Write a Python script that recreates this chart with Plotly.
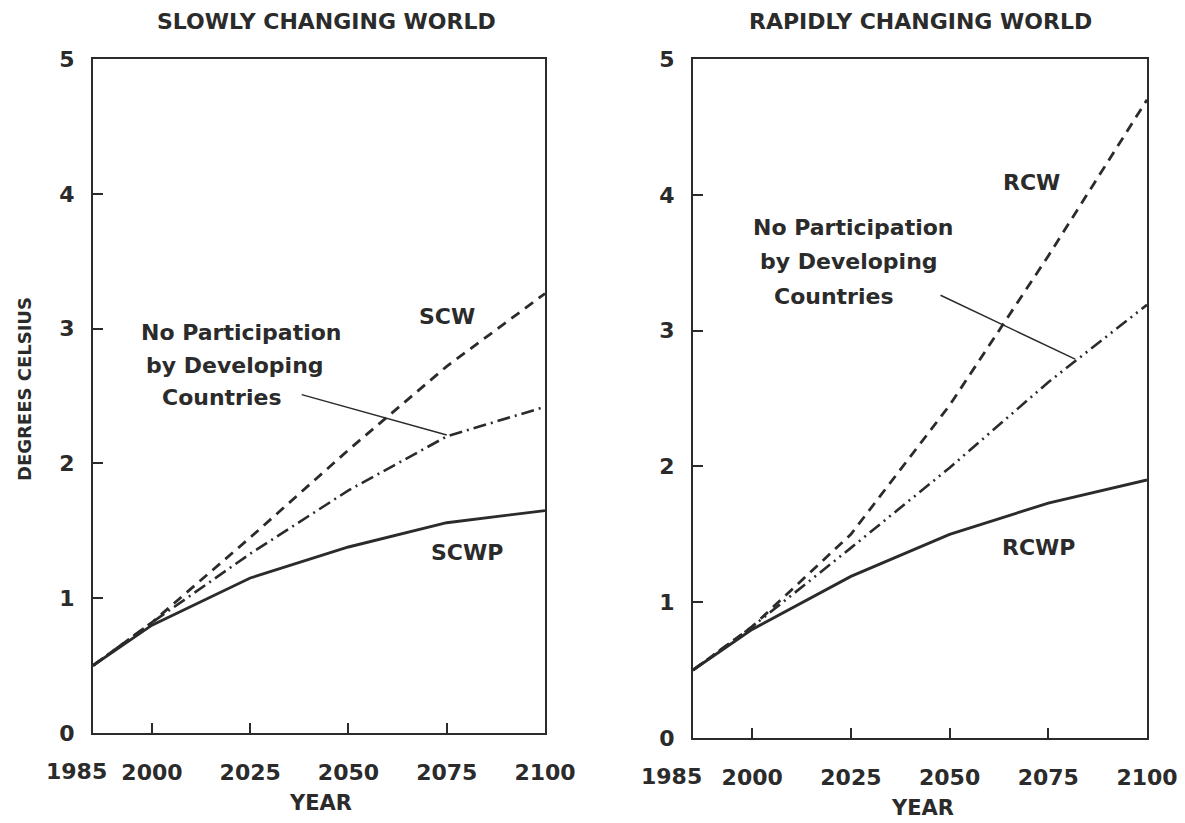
import plotly.graph_objects as go
from plotly.subplots import make_subplots

# years on x axis
years = [1985, 2000, 2025, 2050, 2075, 2100]

# slowly changing world (degrees C)
scw = [0.50, 0.82, 1.45, 2.10, 2.72, 3.26]
scw_nodev = [0.50, 0.82, 1.33, 1.80, 2.20, 2.42]
scwp = [0.50, 0.80, 1.15, 1.38, 1.56, 1.65]

# rapidly changing world
rcw = [0.50, 0.82, 1.50, 2.45, 3.55, 4.70]
rcw_nodev = [0.50, 0.82, 1.40, 1.99, 2.62, 3.19]
rcwp = [0.50, 0.80, 1.19, 1.50, 1.73, 1.90]

xticks = [1985, 2000, 2025, 2050, 2075, 2100]
xticktext = ["", "2000", "2025", "2050", "2075", "2100"]
yticks = [0, 1, 2, 3, 4, 5]

titles = ["SLOWLY CHANGING WORLD", "RAPIDLY CHANGING WORLD"]
note_lines = ["No Participation", "by Developing", "Countries"]

# label positions (data coords) per panel
left_labels = {"SCW": (2075.1, 3.09), "SCWP": (2080.1, 1.34)}
right_labels = {"RCW": (2070.8, 4.09), "RCWP": (2072.5, 1.40)}
left_note = [(2022.7, 2.97), (2021.1, 2.73), (2017.8, 2.49)]
right_note = [(2025.6, 3.76), (2024.4, 3.51), (2020.7, 3.25)]
left_leader = [(2038.1, 2.51), (2075.0, 2.21)]
right_leader = [(2047.7, 3.26), (2081.8, 2.79)]

ink = "#2b2b2b"
fam = "DejaVu Sans"
W, H = 1185, 823
off = 8  # page body margin


def px(x):
    return (x - off) / W


def py(y):
    return 1 - (y - off) / H


fig = make_subplots(rows=1, cols=2)

fig.add_trace(go.Scatter(x=years, y=scw, mode="lines",
                         line=dict(color=ink, width=2.8, dash="10px,7px")), 1, 1)
fig.add_trace(go.Scatter(x=years, y=scw_nodev, mode="lines",
                         line=dict(color=ink, width=2.6, dash="13px,5px,2px,5px")), 1, 1)
fig.add_trace(go.Scatter(x=years, y=scwp, mode="lines",
                         line=dict(color=ink, width=2.9)), 1, 1)

fig.add_trace(go.Scatter(x=years, y=rcw, mode="lines",
                         line=dict(color=ink, width=2.8, dash="10px,7px")), 1, 2)
fig.add_trace(go.Scatter(x=years, y=rcw_nodev, mode="lines",
                         line=dict(color=ink, width=2.6, dash="13px,5px,2px,5px,2px,5px")), 1, 2)
fig.add_trace(go.Scatter(x=years, y=rcwp, mode="lines",
                         line=dict(color=ink, width=2.9)), 1, 2)

tickfont = dict(family=fam, size=22, color=ink, weight="bold")
axis_common = dict(showline=True, linecolor=ink, linewidth=2, mirror=True,
                   showgrid=False, zeroline=False, ticks="inside", ticklen=10,
                   tickwidth=2, tickcolor=ink, tickfont=tickfont, automargin=False)

fig.update_xaxes(range=[1985, 2100], tickvals=xticks, ticktext=xticktext,
                 ticklabelstandoff=19, **axis_common)
fig.update_yaxes(range=[0, 5], tickvals=yticks, ticklabelstandoff=12, **axis_common)

fig.update_layout(
    width=W, height=H, showlegend=False,
    margin=dict(l=0, r=0, t=0, b=0),
    paper_bgcolor="white", plot_bgcolor="white",
    xaxis=dict(domain=[px(93), px(545)]),
    xaxis2=dict(domain=[px(693), px(1147)]),
    yaxis=dict(domain=[py(733), py(59)]),
    yaxis2=dict(domain=[py(738), py(59)]),
)

txt = dict(family=fam, size=22, color=ink, weight="bold")
head = dict(family=fam, size=22, color=ink, weight="bold")
axt = dict(family=fam, size=21, color=ink, weight="bold")
centered = dict(showarrow=False, xanchor="center", yanchor="middle")

# panel titles
fig.add_annotation(text=titles[0], x=px(326), y=py(22), xref="paper", yref="paper",
                   font=head, **centered)
fig.add_annotation(text=titles[1], x=px(920), y=py(22), xref="paper", yref="paper",
                   font=head, **centered)

# axis titles
fig.add_annotation(text="YEAR", x=px(320), y=py(803), xref="paper", yref="paper",
                   font=axt, **centered)
fig.add_annotation(text="YEAR", x=px(922), y=py(808), xref="paper", yref="paper",
                   font=axt, **centered)
fig.add_annotation(text="DEGREES CELSIUS", x=px(24), y=py(389), xref="paper", yref="paper",
                   textangle=-90, font=dict(family=fam, size=18, color=ink, weight="bold"),
                   **centered)

# shifted 1985 labels
fig.add_annotation(text="1985", x=1985, y=0, xref="x", yref="y",
                   xshift=-17, yshift=-38, font=tickfont, **centered)
fig.add_annotation(text="1985", x=1985, y=0, xref="x2", yref="y2",
                   xshift=-22, yshift=-38, font=tickfont, **centered)

# curve labels
for name, (lx, ly) in left_labels.items():
    fig.add_annotation(text=name, x=lx, y=ly, xref="x", yref="y", font=txt, **centered)
for name, (lx, ly) in right_labels.items():
    fig.add_annotation(text=name, x=lx, y=ly, xref="x2", yref="y2", font=txt, **centered)

for line, (lx, ly) in zip(note_lines, left_note):
    fig.add_annotation(text=line, x=lx, y=ly, xref="x", yref="y", font=txt, **centered)
for line, (lx, ly) in zip(note_lines, right_note):
    fig.add_annotation(text=line, x=lx, y=ly, xref="x2", yref="y2", font=txt, **centered)

# leader lines
fig.add_shape(type="line", xref="x", yref="y",
              x0=left_leader[0][0], y0=left_leader[0][1],
              x1=left_leader[1][0], y1=left_leader[1][1],
              line=dict(color=ink, width=1.5))
fig.add_shape(type="line", xref="x2", yref="y2",
              x0=right_leader[0][0], y0=right_leader[0][1],
              x1=right_leader[1][0], y1=right_leader[1][1],
              line=dict(color=ink, width=1.5))

fig.write_html("out.html")
